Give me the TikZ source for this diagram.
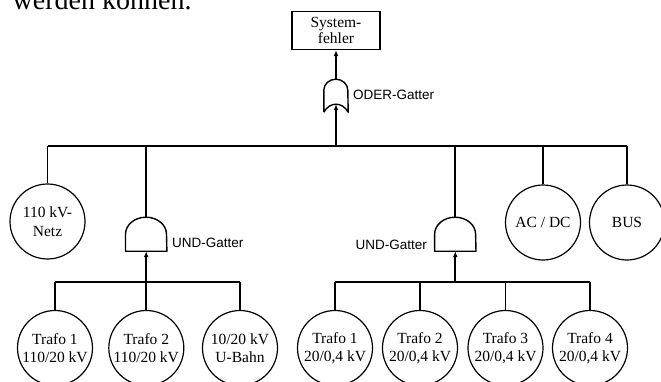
\documentclass[tikz,border=0pt]{standalone}
\usepackage{fontspec}
\setmainfont{Liberation Serif}
\setsansfont{Liberation Sans}
\usetikzlibrary{arrows.meta}

\begin{document}
\begin{tikzpicture}[x=1pt,y=1pt,
    every node/.style={font=\fontsize{15.5}{18.5}\selectfont},
    event/.style={circle,draw,line width=1.2pt,minimum size=75pt,inner sep=0pt,align=center},
    topbox/.style={rectangle,draw,line width=1.4pt,minimum width=88pt,minimum height=38pt,
        inner sep=0pt,align=center,font=\fontsize{15.5}{16.7}\selectfont},
    gatebox/.style={minimum width=41pt,minimum height=34pt,inner sep=0pt},
    gateline/.style={line width=1.4pt,line join=round},
    gatetext/.style={font=\sffamily\fontsize{13.5}{16}\selectfont,inner sep=0pt},
    wire/.style={line width=1.9pt},
    wireup/.style={wire,-{Latex[length=6pt,width=5pt]}}]
    \useasboundingbox (0,0) rectangle (661,381);
    \clip (0,0) rectangle (661,381);

    \node[font=\fontsize{28}{30}\selectfont,anchor=base west,inner sep=0pt] (context) at (12.5,371.7) {werden können.};

    \node[topbox] (fehler) at (336,350.5) {System-\\fehler};
    \node[gatebox,minimum width=24pt,minimum height=33pt] (oder) at (336,285.5) {};
    \coordinate (oderin) at ([yshift=8pt]oder.south);
    \node[gatetext,anchor=west] (oderlabel) at (353,286) {ODER-Gatter};

    \node[event] (netz) at (47.5,159.5) {110 kV-\\Netz};
    \node[gatebox] (undL) at (146.2,147) {};
    \node[gatetext,anchor=base west] (undLlabel) at (172,133.5) {UND-Gatter};
    \node[gatebox] (undR) at (455.3,147) {};
    \node[gatetext,anchor=base east] (undRlabel) at (427,131.5) {UND-Gatter};
    \node[event] (acdc) at (543,158.5) {AC / DC};
    \node[event] (bus) at (627,158.5) {BUS};

    \node[event] (t1) at (55,33) {Trafo 1\\110/20 kV};
    \node[event] (t2) at (146.3,33) {Trafo 2\\110/20 kV};
    \node[event] (ubahn) at (240,33) {10/20 kV\\U-Bahn};
    \node[event] (t3) at (335,33) {Trafo 1\\20/0,4 kV};
    \node[event] (t4) at (420,33) {Trafo 2\\20/0,4 kV};
    \node[event] (t5) at (505.5,33) {Trafo 3\\20/0,4 kV};
    \node[event] (t6) at (590,33) {Trafo 4\\20/0,4 kV};

    \coordinate (topbus) at (0,235.3);
    \coordinate (lowbus) at (0,98.7);

    % gates
    \draw[gateline] (oder.south west) -- ++(0,22)
        arc[start angle=180,end angle=0,x radius=12,y radius=11] -- (oder.south east)
        .. controls +(-6,10.7) and +(6,10.7) .. (oder.south west);
    \foreach \g in {undL,undR}
        \draw[gateline] (\g.south west) -- ++(0,17)
            arc[start angle=180,end angle=0,x radius=20.5,y radius=17] -- (\g.south east) -- cycle;

    % upper level
    \draw[wire] (netz |- topbus) -- (bus |- topbus);
    \foreach \n in {netz,acdc,bus}
        \draw[wire] (\n) -- (\n |- topbus);
    \draw[wire] (undL.north) -- (undL |- topbus);
    \draw[wire] (undR.north) -- (undR |- topbus);
    \draw[wireup] (oder |- topbus) -- (oderin);
    \draw[wireup] (oder.north) -- (fehler);

    % lower level
    \draw[wire] (t1 |- lowbus) -- (ubahn |- lowbus);
    \draw[wire] (t3 |- lowbus) -- (t6 |- lowbus);
    \foreach \n in {t1,t2,ubahn,t3,t4,t5,t6}
        \draw[wire] (\n) -- (\n |- lowbus);
    \draw[wireup] (undL |- lowbus) -- (undL.south);
    \draw[wireup] (undR |- lowbus) -- (undR.south);
\end{tikzpicture}
\end{document}
